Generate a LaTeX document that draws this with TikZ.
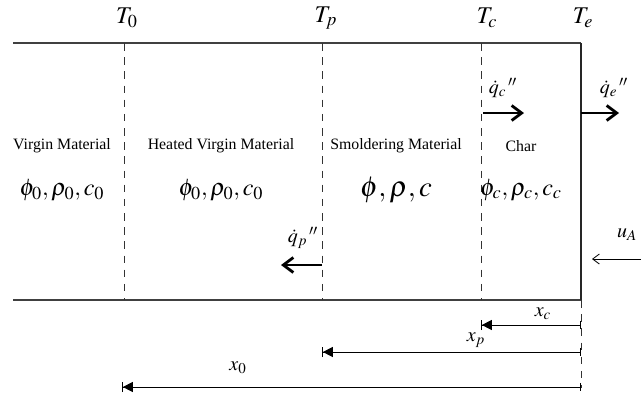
\documentclass[tikz,border=0pt]{standalone}
\usepackage{mathptmx}
\usepackage{fontspec}
\setmainfont{Liberation Serif}
\usetikzlibrary{arrows.meta}

\begin{document}
\begin{tikzpicture}[
  x=0.6pt, y=-0.6pt,
  wall/.style={line width=0.7pt, color=black!75},
  surface/.style={line width=1pt, color=black!85},
  front/.style={dashed, dash pattern=on 4.5pt off 4pt, line width=0.5pt, color=black!80},
  region/.style={font=\fontsize{9.5}{11}\selectfont, align=center},
  prop/.style={font=\Large},
  temp/.style={font=\Large},
  flux/.style={-{Straight Barb[length=6pt,width=9pt]}, line width=1.7pt},
  inflow/.style={-{Straight Barb[length=4pt,width=6pt]}, line width=0.5pt},
  dim/.style={{Bar[width=5pt]}-{Triangle[length=6pt,width=6pt,sep=0pt] Bar[width=6pt]}, line width=0.5pt},
  lbl/.style={font=\large, inner sep=1pt}
]
  \useasboundingbox (0,0) rectangle (641,394);

  % Outline of the slab
  \coordinate (tl) at (13,43);
  \coordinate (tr) at (581,43);
  \coordinate (br) at (581,300);
  \coordinate (bl) at (13,300);
  \draw[wall] (bl) -- (br);
  \draw[wall] (tl) -- (tr);
  \draw[surface] (tr) -- (br);

  % Reaction fronts
  \coordinate (f0t) at (124,43);  \coordinate (f0b) at (124,300);
  \coordinate (fpt) at (322,43);  \coordinate (fpb) at (322,300);
  \coordinate (fct) at (481,43);  \coordinate (fcb) at (481,300);
  \coordinate (feb) at (581,388);
  \draw[front] (f0t) -- (f0b);
  \draw[front] (fpt) -- (fpb);
  \draw[front] (fct) -- (fcb);
  \draw[front] (br) -- (feb);

  % Temperatures above
  \node[temp] (T0) at (127,18) {$T_0$};
  \node[temp] (Tp) at (326,18) {$T_p$};
  \node[temp] (Tc) at (487,18) {$T_c$};
  \node[temp] (Te) at (583,18) {$T_e$};

  % Zones
  \node[region] (virgin) at (62,146)  {Virgin Material};
  \node[region] (heated) at (221,146) {Heated Virgin Material};
  \node[region] (smold)  at (396,146) {Smoldering Material};
  \node[region] (char)   at (521,146) {Char};

  % Properties of each zone
  \node[prop] (pvirgin) at (62,190)  {$\phi_0, \rho_0, c_0$};
  \node[prop] (pheated) at (221,190) {$\phi_0, \rho_0, c_0$};
  \node[prop, font=\LARGE] (psmold) at (396,190) {$\phi, \rho, c$};
  \node[prop] (pchar)   at (521,190) {$\phi_c, \rho_c, c_c$};

  % Heat fluxes
  \node[lbl] (qc) at (503,88)  {$\dot{q}_c{}^{\,\prime\prime}$};
  \node[lbl] (qe) at (614,88)  {$\dot{q}_e{}^{\,\prime\prime}$};
  \node[lbl] (qp) at (303,238) {$\dot{q}_p{}^{\,\prime\prime}$};
  \coordinate (qc0) at (483,113); \coordinate (qc1) at (524,113);
  \coordinate (qe0) at (581,113); \coordinate (qe1) at (619,113);
  \coordinate (qp0) at (322,265); \coordinate (qp1) at (281,265);
  \draw[flux] (qc0) -- (qc1);
  \draw[flux] (qe0) -- (qe1);
  \draw[flux] (qp0) -- (qp1);

  % Air inflow
  \node[lbl] (uA) at (627,235) {$u_A$};
  \coordinate (ua0) at (641,259); \coordinate (ua1) at (592,259);
  \draw[inflow] (ua0) -- (ua1);

  % Front positions measured from the surface
  \coordinate (xcr) at (581,325); \coordinate (xcl) at (481,325);
  \coordinate (xpr) at (581,352); \coordinate (xpl) at (322,352);
  \coordinate (x0r) at (581,387); \coordinate (x0l) at (122,387);
  \draw[dim] (xcr) -- (xcl);
  \draw[dim] (xpr) -- (xpl);
  \draw[dim] (x0r) -- (x0l);
  \node[lbl] (xc) at (543,314) {$x_c$};
  \node[lbl] (xp) at (476,340) {$x_p$};
  \node[lbl] (x0) at (238,368) {$x_0$};
\end{tikzpicture}
\end{document}
